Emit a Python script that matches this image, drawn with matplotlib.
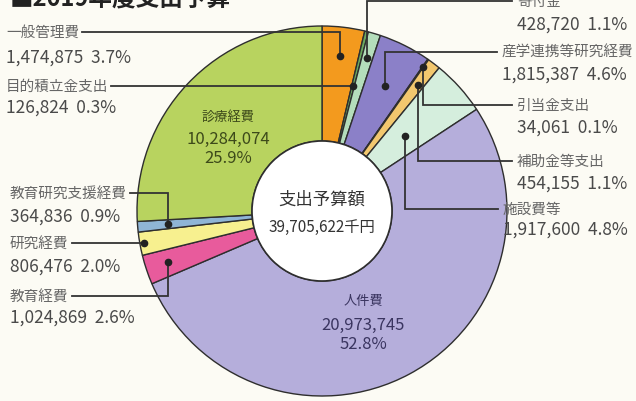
import numpy as np
import matplotlib
matplotlib.use("Agg")
import matplotlib.pyplot as plt
from matplotlib.patches import Circle

plt.rcParams['font.family'] = ['Noto Sans CJK JP', 'DejaVu Sans']

# Data (千円), clockwise from 12 o'clock
items = ["一般管理費", "目的積立金支出", "寄付金", "産学連携等研究経費", "引当金支出",
         "補助金等支出", "施設費等", "人件費", "教育経費", "研究経費",
         "教育研究支援経費", "診療経費"]
values = [1474875, 126824, 428720, 1815387, 34061,
          454155, 1917600, 20973745, 1024869, 806476,
          364836, 10284074]
percents = ["3.7%", "0.3%", "1.1%", "4.6%", "0.1%",
            "1.1%", "4.8%", "52.8%", "2.6%", "2.0%",
            "0.9%", "25.9%"]
colors = ["#f39a1e", "#6aa860", "#b4ddbb", "#8b80c8", "#3a2f2a",
          "#f2c76e", "#d5eedd", "#b5aedb", "#e85b9c", "#f7f08f",
          "#8fb5d6", "#b8d35f"]
total_label = "39,705,622千円"

W, H = 636, 402
CX, CY = 322, 212          # centre in pixel coords (y down)
R_OUT, R_IN = 185, 70
BG = "#fcfbf4"

def py(y):
    return H - y

fig = plt.figure(figsize=(W / 100, H / 100), dpi=100, facecolor=BG)
ax = fig.add_axes([0, 0, 1, 1])
ax.set_facecolor(BG)

ax.pie(values, colors=colors, startangle=90, counterclock=False,
       center=(CX, py(CY)), radius=R_OUT, frame=True,
       wedgeprops=dict(width=R_OUT - R_IN, edgecolor="#2e2e2e", linewidth=1.0))
ax.add_patch(Circle((CX, py(CY)), R_IN, facecolor="white", edgecolor="#2e2e2e", lw=1.2, zorder=3))
ax.set_xlim(0, W)
ax.set_ylim(0, H)
ax.set_aspect("equal")
ax.axis("off")

# mid angles of each wedge (deg, clockwise from top)
cum = np.cumsum([0] + values) / sum(values) * 360
mids = (cum[:-1] + cum[1:]) / 2

def fmt(v):
    return f"{v:,}"

# outside labels: item index, side, label x, name y, value y, anchor radius
outside = [
    (0, "L", 6, 33, 58, 156),
    (1, "L", 6, 87, 108, None),
    (10, "L", 10, 194, 217, 155),
    (9, "L", 10, 244, 267, None),
    (8, "L", 10, 297, 318, 162),
    (2, "R", 517, 2, 25, 160),
    (3, "R", 502, 53, 75, 140),
    (4, "R", 517, 106, 128, 176),
    (5, "R", 517, 162, 184, 158),
    (6, "R", 503, 210, 230, 112),
]

fig.canvas.draw()
renderer = fig.canvas.get_renderer()
inv = ax.transData.inverted()

for idx, side, lx, ny, vy, r in outside:
    t = np.radians(mids[idx])
    if r is None:
        r = (CY - ny) / np.cos(t)
    axp = CX + r * np.sin(t)
    ayp = CY - r * np.cos(t)
    name = ax.text(lx, py(ny), items[idx], fontsize=10.5, color="#666666",
                   ha="left", va="center", zorder=5)
    ax.text(lx, py(vy), f"{fmt(values[idx])}  {percents[idx]}", fontsize=12.5,
            color="#4a4a4a", ha="left", va="center", zorder=5)
    if side == "L":
        bb = name.get_window_extent(renderer)
        x0 = inv.transform((bb.x1, 0))[0] + 3
    else:
        x0 = lx - 5
    ax.plot([x0, axp, axp], [py(ny), py(ny), py(ayp)], color="#333333", lw=1.3,
            solid_joinstyle="miter", zorder=4)
    ax.plot(axp, py(ayp), "o", color="#222222", ms=4.5, zorder=4)

# inside labels
ax.text(228, py(117), items[11], fontsize=9.5, color="#3d4a1a", ha="center", va="center")
ax.text(228, py(139), fmt(values[11]), fontsize=12, color="#3d4a1a", ha="center", va="center")
ax.text(228, py(159), percents[11], fontsize=12, color="#3d4a1a", ha="center", va="center")

ax.text(363, py(302), items[7], fontsize=9.5, color="#3a3560", ha="center", va="center")
ax.text(363, py(325), fmt(values[7]), fontsize=12, color="#3a3560", ha="center", va="center")
ax.text(363, py(345), percents[7], fontsize=12, color="#3a3560", ha="center", va="center")

ax.text(CX, py(200), "支出予算額", fontsize=12.5, color="#333333", ha="center", va="center", zorder=5)
ax.text(CX, py(227), total_label, fontsize=11, color="#333333", ha="center", va="center", zorder=5)

# title, cut off at the top edge
ax.text(10, py(6), "■2019年度支出予算", fontsize=17, color="#222222", ha="left",
        va="baseline", fontweight="bold")

fig.savefig("out.png", dpi=100, facecolor=BG)
